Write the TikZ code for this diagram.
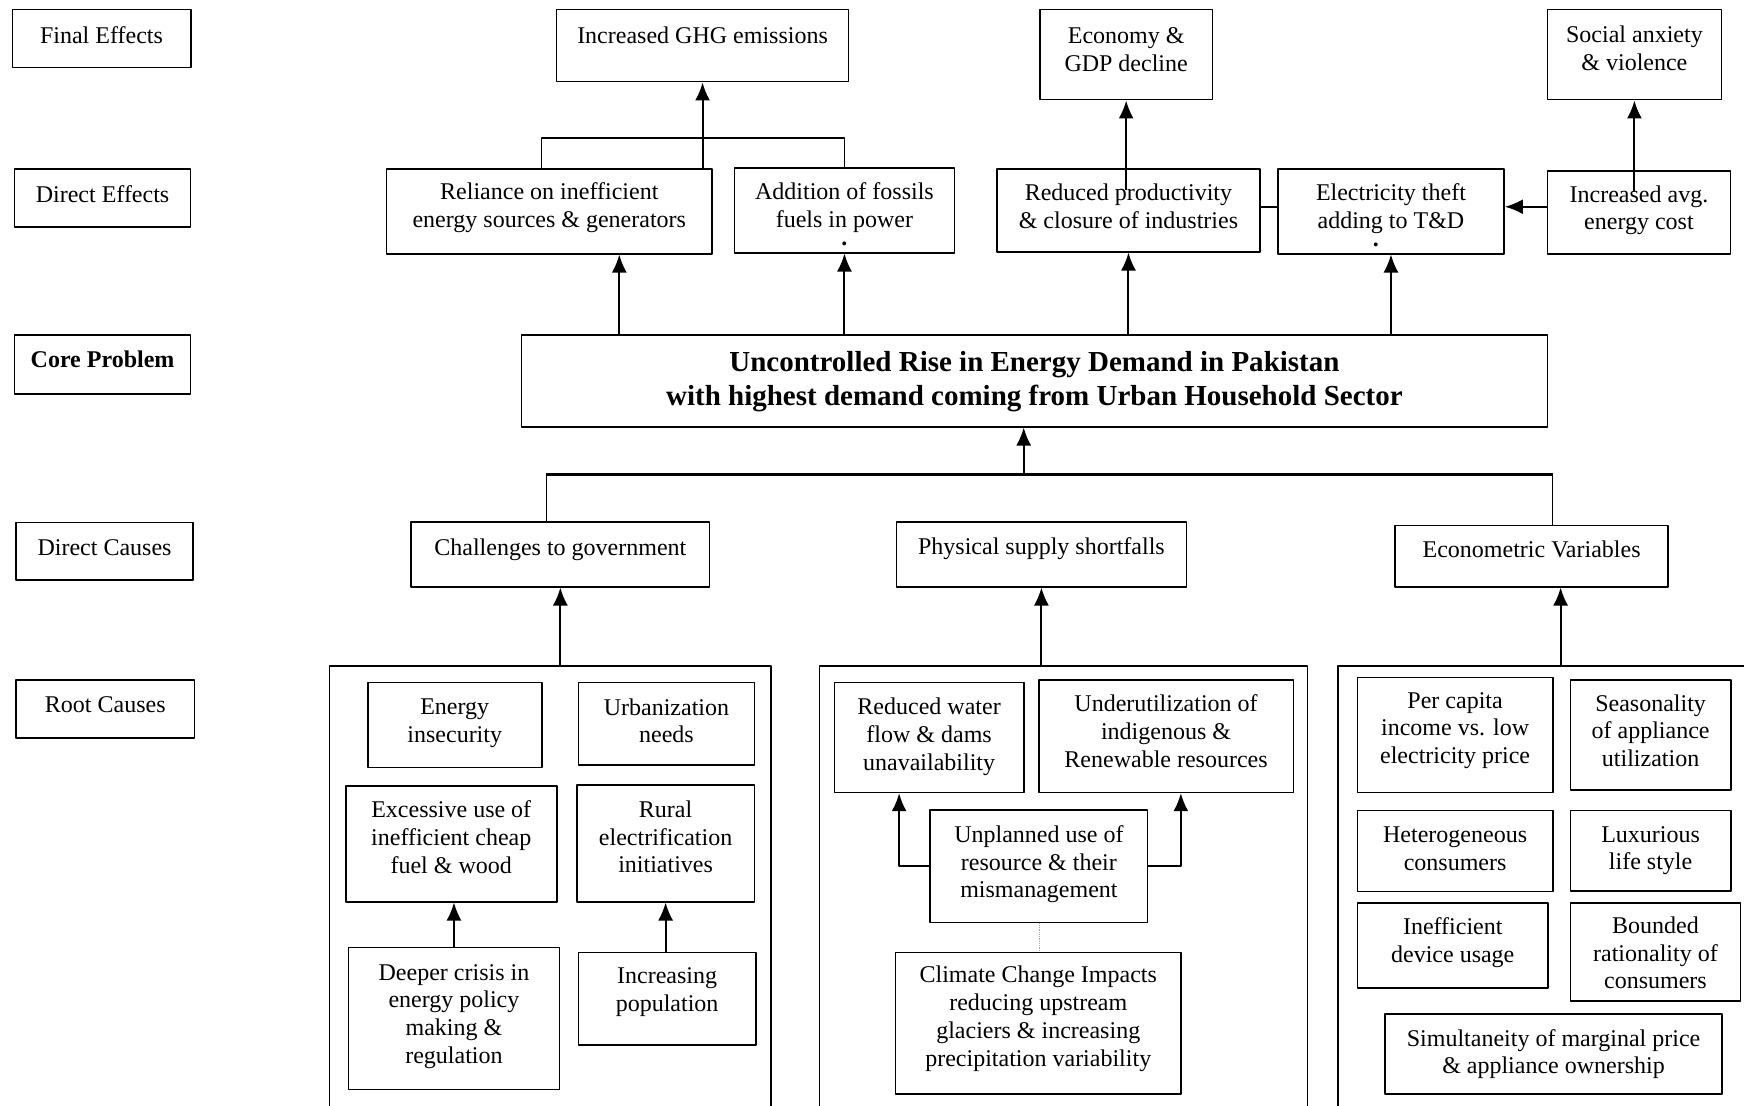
\documentclass[tikz,border=0pt]{standalone}
\usepackage{fontspec}
\setmainfont{Liberation Serif}
\usetikzlibrary{calc,arrows.meta}
\tikzset{>={Latex[length=18pt,width=15pt]}}
\tikzset{
  box/.style 2 args={draw, line width=1.5pt, minimum width=#1pt, minimum height=#2pt,
    inner sep=0pt, anchor=north west},
  txt/.style={align=center, yshift=#1pt},
  txt/.default=4,
  link/.style={line width=2pt},
}

\begin{document}
\begin{tikzpicture}[x=1pt, y=-1pt, line join=round, font=\fontsize{24}{27.8}\selectfont]
    \clip (0,0) rectangle (1744,1105);

    % level labels
    \node[box={178.5}{58}, label={[txt]center:Final Effects}] (lfin) at (11.5,9) {};
    \node[box={176}{58}, label={[txt]center:Direct Effects}] (ldir) at (13.8,168) {};
    \node[box={176}{59}, label={[txt=5, font=\bfseries\fontsize{24}{27.8}\selectfont]center:Core Problem}] (lcore) at (13.8,334) {};
    \node[box={177}{57.6}, label={[txt]center:Direct Causes}] (lcau) at (15.3,521.7) {};
    \node[box={178.4}{58.3}, label={[txt]center:Root Causes}] (lroot) at (15.3,679) {};

    % final effects
    \node[box={292.2}{72}, label={[txt=10.5]center:Increased GHG emissions}] (ghg) at (555.7,9) {};
    \node[box={172.2}{90}, label={[txt=5.5]center:{Economy \&\\GDP decline}}] (gdp) at (1039.3,9) {};
    \node[box={173.9}{90}, label={[txt=6.5]center:{Social anxiety\\\& violence}}] (soc) at (1546.7,9) {};

    % direct effects
    \node[box={325.5}{85}, label={[txt=3.5]center:{Reliance on inefficient\\energy sources \& generators}}] (rel) at (385.8,168) {};
    \node[box={220.2}{85}, label={[txt=-4]center:{Addition of fossils\\fuels in power\\[-9pt]\textbf{.}}}] (add) at (733.6,167) {};
    \node[box={263.4}{83}, label={[txt]center:{Reduced productivity\\\& closure of industries}}] (red) at (996,168) {};
    \node[box={226.4}{85}, label={[txt=-4]center:{Electricity theft\\adding to T\&D\\[-9pt]\hspace*{-30pt}\textbf{.}}}] (elec) at (1277,168) {};
    \node[box={183}{83}, label={[txt=2]center:{Increased avg.\\energy cost}}] (inc) at (1546.7,170) {};

    % core problem
    \node[box={1026}{92}, label={[txt=-1, font=\bfseries\fontsize{29}{34}\selectfont]center:{Uncontrolled Rise in Energy Demand in Pakistan\\with highest demand coming from Urban Household Sector}}] (core) at (520.7,334) {};

    % direct causes
    \node[box={298.4}{65}, label={[txt]center:Challenges to government}] (gov) at (410.4,521) {};
    \node[box={289.7}{65}, label={[txt=5.5]center:Physical supply shortfalls}] (phys) at (895.8,521) {};
    \node[box={273.1}{61.3}, label={[txt=6.5]center:Econometric Variables}] (econ) at (1394.3,524.7) {};

    % root cause groups
    \node[box={441.3}{500}] (g1) at (328.7,665) {};
    \node[box={487.9}{500}] (g2) at (818.9,665) {};
    \node[box={500}{500}] (g3) at (1337.3,665) {};

    \node[box={174}{85}, label={[txt=2]center:{Energy\\insecurity}}] (ins) at (367,681.7) {};
    \node[box={176}{82.6}, label={[txt=3]center:{Urbanization\\needs}}] (urb) at (577.7,681.7) {};
    \node[box={211}{115.7}, label={[txt=6.5]center:{Excessive use of\\inefficient cheap\\fuel \& wood}}] (fuel) at (345,785.3) {};
    \node[box={177.7}{116.7}, label={[txt=6.5]center:{Rural\\electrification\\initiatives}}] (rur) at (576,784.3) {};
    \node[box={211}{142}, label={[txt=2]center:{Deeper crisis in\\energy policy\\making \&\\regulation}}] (pol) at (347.7,946.7) {};
    \node[box={177.3}{92.6}, label={[txt=6.5]center:{Increasing\\population}}] (pop) at (577.7,951.7) {};

    \node[box={189.7}{110}, label={[txt=0.5]center:{Reduced water\\flow \& dams\\unavailability}}] (wat) at (833.5,681.7) {};
    \node[box={254.4}{112.4}, label={[txt=5]center:{Underutilization of\\indigenous \&\\Renewable resources}}] (ren) at (1038.1,679.3) {};
    \node[box={217.5}{112.4}, label={[txt=2]center:{Unplanned use of\\resource \& their\\mismanagement}}] (mis) at (929.4,809.3) {};
    \node[box={285.2}{141.6}, label={[txt=4.5]center:{Climate Change Impacts\\reducing upstream\\glaciers \& increasing\\precipitation variability}}] (clim) at (894.9,951.7) {};

    \node[box={195.3}{115}, label={[txt=4.5]center:{Per capita\\income vs. low\\electricity price}}] (inco) at (1356.7,676.7) {};
    \node[box={160.3}{110}, label={[txt=4]center:{Seasonality\\of appliance\\utilization}}] (seas) at (1569.7,679) {};
    \node[box={195.3}{81}, label={[txt=2]center:{Heterogeneous\\consumers}}] (het) at (1356.7,809.7) {};
    \node[box={160.3}{80.3}, label={[txt=0]center:{Luxurious\\life style}}] (lux) at (1569.7,809.7) {};
    \node[box={190.6}{85}, label={[txt=3]center:{Inefficient\\device usage}}] (dev) at (1356.7,902.3) {};
    \node[box={170}{97.7}, label={[txt=-1]center:{Bounded\\rationality of\\consumers}}] (bnd) at (1569.7,902.3) {};
    \node[box={337}{80}, label={[txt=0]center:{Simultaneity of marginal price\\\& appliance ownership}}] (sim) at (1384.3,1013.3) {};

    % effects
    \draw[line width=1.5pt] ($(rel.north)+(-8,0)$) -- ++(0,-30) -| (add.north);
    \draw[link, ->] (rel.north -| ghg.south) -- (ghg.south);
    \draw[link, ->] ($(gdp.south |- red.north)+(0,22)$) -- (gdp.south);
    \draw[link, ->] ($(soc.south |- inc.north)+(0,22)$) -- (soc.south);
    \draw[line width=1.5pt] ($(red.east)+(0,-3.5)$) -- ($(red.east -| elec.west)+(0,-3.5)$);
    \draw[link, ->] ($(inc.west)+(0,-5.5)$) -- ($(inc.west -| elec.east)+(0,-5.5)$);

    \draw[link, ->] ($(rel.south |- core.north)+(70,0)$) -- ($(rel.south)+(70,0)$);
    \draw[link, ->] (add.south |- core.north) -- (add.south);
    \draw[link, ->] (red.south |- core.north) -- (red.south);
    \draw[link, ->] (elec.south |- core.north) -- (elec.south);

    % causes
    \coordinate (hub) at (1023.7,474.3);
    \coordinate (govtop) at ($(gov.north)+(-14,0)$);
    \coordinate (econtop) at ($(econ.north)+(21,0)$);
    \draw[line width=1.5pt] (govtop) -- (govtop |- hub);
    \draw[line width=1.5pt] (econtop) -- (econtop |- hub);
    \draw[line width=2.4pt] (govtop |- hub) -- (econtop |- hub);
    \draw[link, ->] (hub) -- (hub |- core.south);

    \draw[link, ->] (g1.north -| gov.south) -- (gov.south);
    \draw[link, ->] (g2.north -| phys.south) -- (phys.south);
    \draw[link, ->] ($(g3.north -| econ.south)+(29,0)$) -- ($(econ.south)+(29,0)$);

    \draw[link, ->] (pol.north) -- (pol.north |- fuel.south);
    \draw[link, ->] (rur.south |- pop.north) -- (rur.south);
    \draw[link, ->] (mis.west) -| ($(wat.south)+(-30,0)$);
    \draw[link, ->] (mis.east) -| ($(ren.south)+(14.8,0)$);
    \draw[gray!70, line width=0.8pt, densely dotted] (mis.south) -- (mis.south |- clim.north);

\end{tikzpicture}
\end{document}
